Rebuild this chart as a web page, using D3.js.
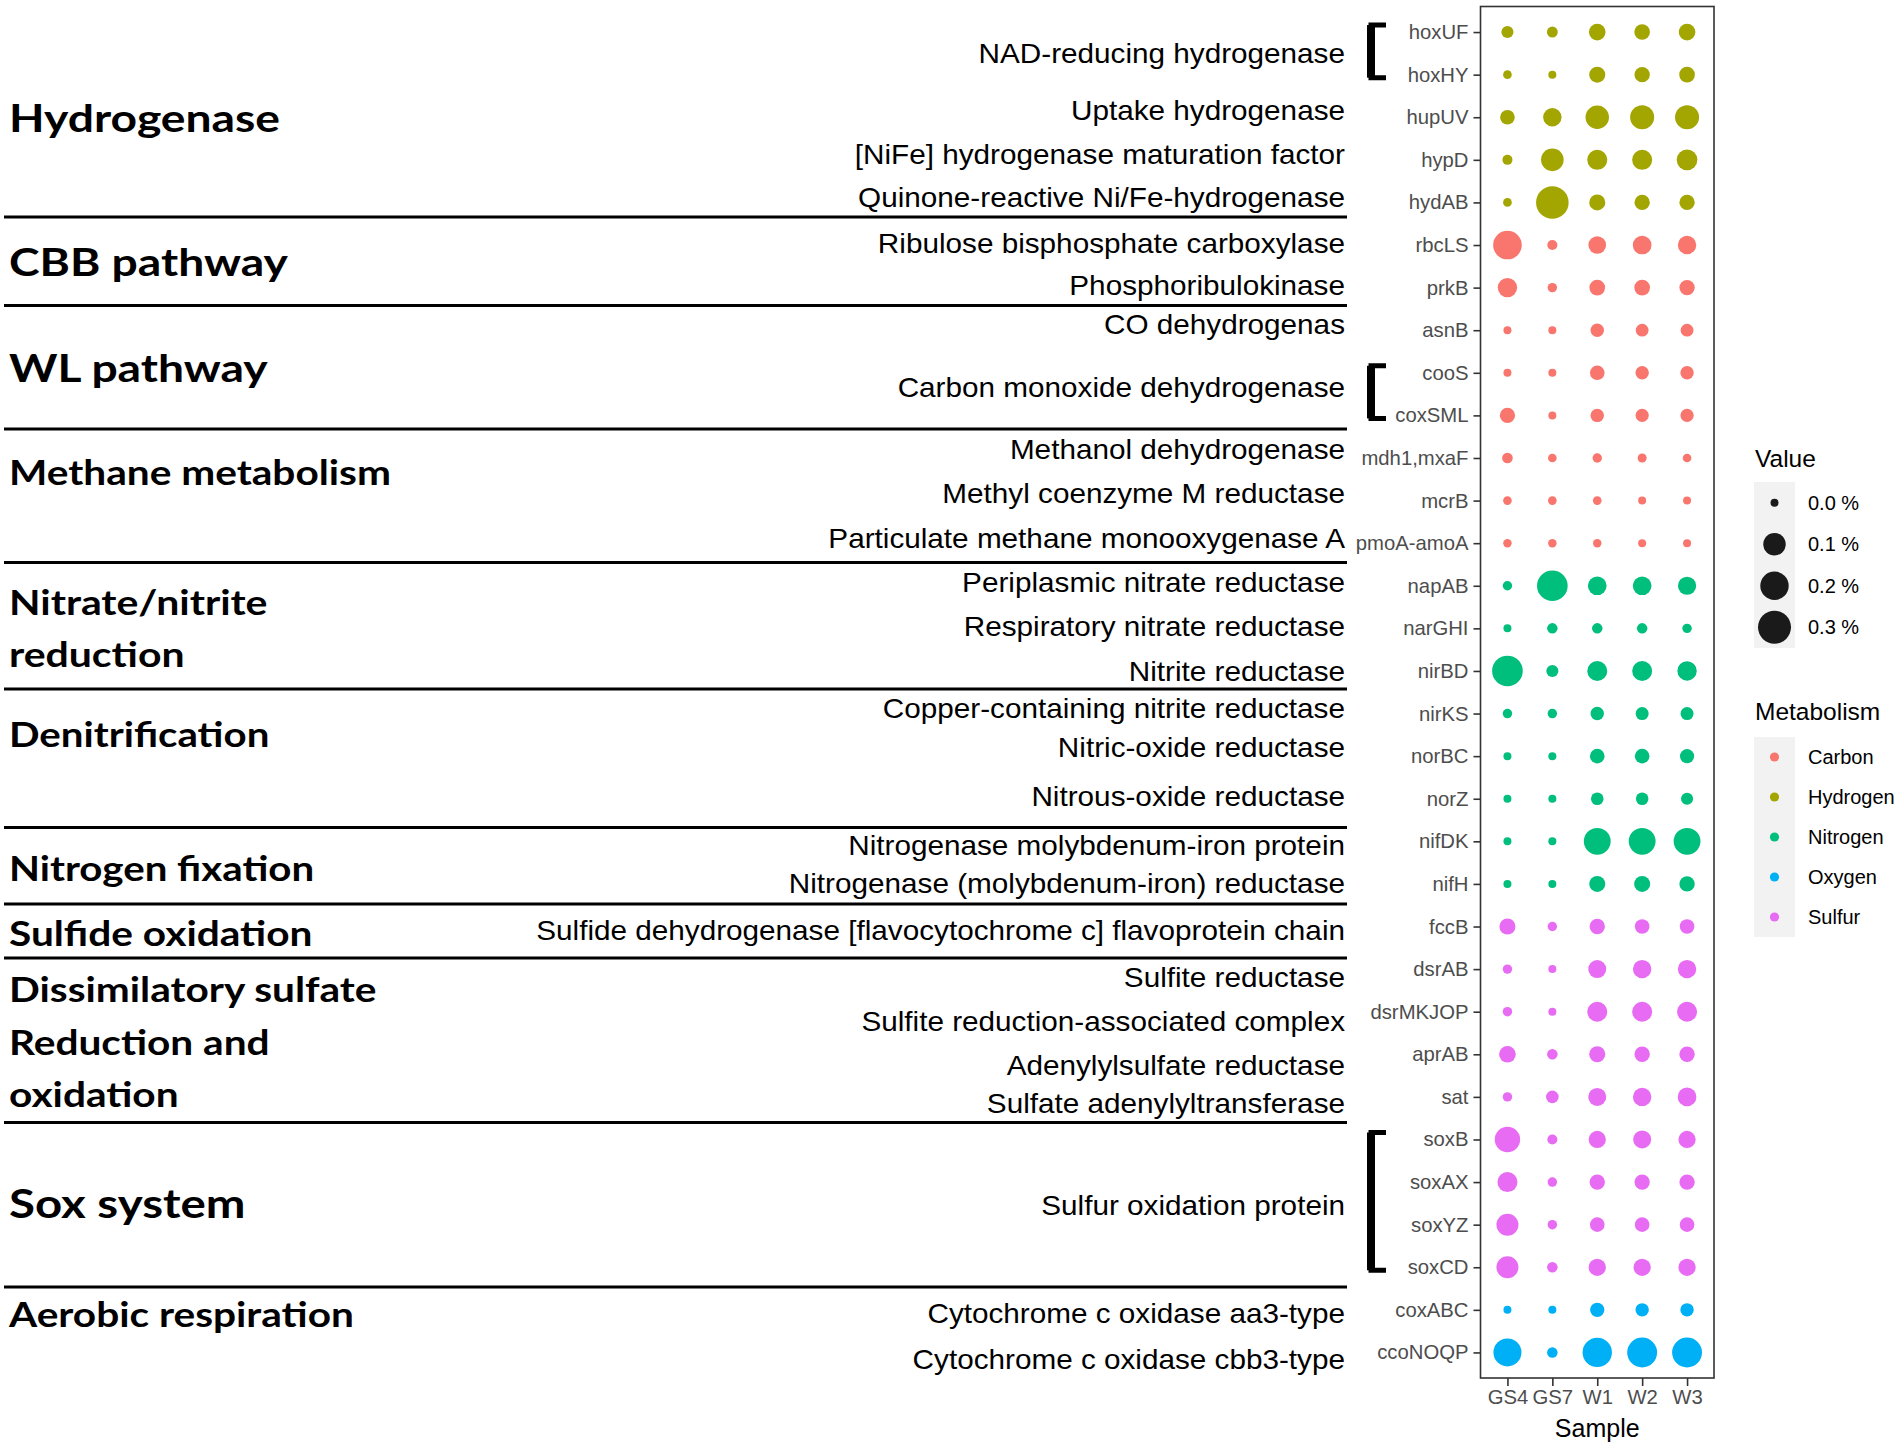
<!DOCTYPE html>
<html>
<head>
<meta charset="utf-8">
<script src="https://cdn.jsdelivr.net/npm/d3@7"></script>
<style>
  html, body { margin: 0; padding: 0; background: #ffffff; }
  svg { display: block; }
</style>
</head>
<body>
<svg id="chart" width="1902" height="1449"></svg>
<script>
// ---------------- DATA ----------------
const genes = ["hoxUF","hoxHY","hupUV","hypD","hydAB","rbcLS","prkB","asnB","cooS","coxSML",
  "mdh1,mxaF","mcrB","pmoA-amoA","napAB","narGHI","nirBD","nirKS","norBC","norZ","nifDK","nifH",
  "fccB","dsrAB","dsrMKJOP","aprAB","sat","soxB","soxAX","soxYZ","soxCD","coxABC","ccoNOQP"];
const geneMetabolism = ["Hydrogen","Hydrogen","Hydrogen","Hydrogen","Hydrogen","Carbon","Carbon","Carbon","Carbon","Carbon",
  "Carbon","Carbon","Carbon","Nitrogen","Nitrogen","Nitrogen","Nitrogen","Nitrogen","Nitrogen","Nitrogen","Nitrogen",
  "Sulfur","Sulfur","Sulfur","Sulfur","Sulfur","Sulfur","Sulfur","Sulfur","Sulfur","Oxygen","Oxygen"];
const samples = ["GS4","GS7","W1","W2","W3"];
// relative abundance (%) per sample, same order as genes
const valuesGS4 = [0.008,0.0002,0.021,0.002,0.0002,0.204,0.062,0.0,0.0,0.025,
  0.0034,0.0002,0.0001,0.001,0.0,0.246,0.001,0.0,0.0,0.0,0.0,
  0.031,0.001,0.001,0.036,0.001,0.145,0.069,0.094,0.094,0.0,0.192];
const valuesGS7 = [0.004,0.0,0.052,0.103,0.29,0.002,0.001,0.0,0.0,0.0,
  0.0002,0.0002,0.0001,0.246,0.003,0.008,0.001,0.0,0.0,0.0,0.0,
  0.001,0.0,0.0,0.003,0.010,0.002,0.001,0.001,0.003,0.0,0.003];
const valuesW1 = [0.036,0.031,0.114,0.069,0.031,0.045,0.028,0.014,0.021,0.014,
  0.001,0.0002,0.0001,0.055,0.003,0.069,0.014,0.021,0.010,0.17,0.031,
  0.026,0.048,0.069,0.031,0.048,0.041,0.026,0.021,0.041,0.019,0.219];
const valuesW2 = [0.028,0.026,0.123,0.069,0.026,0.055,0.028,0.011,0.014,0.013,
  0.0005,0.0,0.0,0.055,0.003,0.069,0.012,0.021,0.010,0.17,0.031,
  0.021,0.052,0.069,0.026,0.052,0.048,0.026,0.021,0.041,0.014,0.23];
const valuesW3 = [0.036,0.028,0.123,0.077,0.026,0.052,0.026,0.011,0.014,0.013,
  0.0002,0.0,0.0,0.05,0.001,0.062,0.012,0.018,0.008,0.17,0.026,
  0.021,0.052,0.069,0.026,0.055,0.041,0.026,0.021,0.041,0.014,0.23];
const sampleValues = [valuesGS4, valuesGS7, valuesW1, valuesW2, valuesW3];

const metabolismLevels = ["Carbon","Hydrogen","Nitrogen","Oxygen","Sulfur"];
const sizeBreaks = [0.0, 0.1, 0.2, 0.3];
const sizeBreakLabels = ["0.0 %","0.1 %","0.2 %","0.3 %"];

const groupTitles = ["Hydrogenase","CBB pathway","WL pathway","Methane metabolism",
  "Nitrate/nitrite","reduction","Denitrification","Nitrogen fixation","Sulfide oxidation",
  "Dissimilatory sulfate","Reduction and","oxidation","Sox system","Aerobic respiration"];
const descriptions = ["NAD-reducing hydrogenase","Uptake hydrogenase","[NiFe] hydrogenase maturation factor",
  "Quinone-reactive Ni/Fe-hydrogenase","Ribulose bisphosphate carboxylase","Phosphoribulokinase",
  "CO dehydrogenas","Carbon monoxide dehydrogenase","Methanol dehydrogenase","Methyl coenzyme M reductase",
  "Particulate methane monooxygenase A","Periplasmic nitrate reductase","Respiratory nitrate reductase",
  "Nitrite reductase","Copper-containing nitrite reductase","Nitric-oxide reductase","Nitrous-oxide reductase",
  "Nitrogenase molybdenum-iron protein","Nitrogenase (molybdenum-iron) reductase",
  "Sulfide dehydrogenase [flavocytochrome c] flavoprotein chain","Sulfite reductase",
  "Sulfite reduction-associated complex","Adenylylsulfate reductase","Sulfate adenylyltransferase",
  "Sulfur oxidation protein","Cytochrome c oxidase aa3-type","Cytochrome c oxidase cbb3-type"];
// bracketed gene pairs (first, last)
const brackets = [["hoxUF","hoxHY"],["cooS","coxSML"],["soxB","soxCD"]];

// ---------------- LAYOUT (not data) ----------------
const titleBaselines = [132,276,382,485,615,667,747,881,946,1002,1055,1107,1218,1327];
const titleFontSizes = [38.5,38.5,38.5,35,35,35,35,35,35,35,35,35,39.5,35];
const titleScaleX = [1.2,1.2,1.2,1.16,1.17,1.17,1.15,1.15,1.16,1.16,1.16,1.16,1.2,1.16];
const descBaselines = [63,120,164,207,253,295,334,397,459,503,548,592,636,681,718,757,806,855,893,940,987,1031,1075,1113,1215,1323,1369];
const separatorYs = [217,305.5,429,562.5,689,827.5,904,958,1122.5,1287];

const panel = {left: 1480.5, right: 1714, top: 6.5, bottom: 1378};

const svg = d3.select("#chart");

const color = d3.scaleOrdinal().domain(metabolismLevels)
  .range(["#F8766D","#A3A500","#00BF7D","#00B0F6","#E76BF3"]);
const size = d3.scaleSqrt().domain([0, 0.3]).range([4, 16.5]);

const x = d3.scalePoint().domain(samples).range([panel.left, panel.right]).padding(0.6);
const y = d3.scalePoint().domain(genes).range([panel.top, panel.bottom]).padding(0.6);

// ---------- left annotation text ----------
svg.append("g").selectAll("text").data(groupTitles).join("text")
  .attr("transform", (d,i) => `translate(9,${titleBaselines[i]}) scale(${titleScaleX[i]},1)`)
  .attr("font-family", "Lato, 'Open Sans', sans-serif")
  .attr("font-weight", 700)
  .attr("font-size", (d,i) => titleFontSizes[i])
  .attr("fill", "#000")
  .text(d => d);

svg.append("g").selectAll("text").data(descriptions).join("text")
  .attr("transform", (d,i) => `translate(1345,${descBaselines[i]}) scale(1.1,1)`)
  .attr("text-anchor", "end")
  .attr("font-family", "'Liberation Sans', Arial, sans-serif")
  .attr("font-size", 27)
  .attr("fill", "#000")
  .text(d => d);

svg.append("g").selectAll("line").data(separatorYs).join("line")
  .attr("x1", 4).attr("x2", 1347)
  .attr("y1", d => d).attr("y2", d => d)
  .attr("stroke", "#000").attr("stroke-width", 3);

// brackets
const bracketG = svg.append("g");
brackets.forEach(([a,b]) => {
  const y0 = y(a) - 7, y1 = y(b) + 3;
  bracketG.append("path")
    .attr("d", `M1386,${y0} H1371 V${y1} H1386`)
    .attr("fill", "none").attr("stroke", "#000")
    .attr("stroke-width", 5).attr("stroke-linejoin", "miter");
  bracketG.append("line")
    .attr("x1", 1371).attr("x2", 1371).attr("y1", y0).attr("y2", y1)
    .attr("stroke", "#000").attr("stroke-width", 8);
});

// ---------- panel ----------
svg.append("rect")
  .attr("x", panel.left).attr("y", panel.top)
  .attr("width", panel.right - panel.left).attr("height", panel.bottom - panel.top)
  .attr("fill", "#fff");

const points = [];
samples.forEach((s, si) => {
  genes.forEach((g, gi) => {
    points.push({sample: s, gene: g, value: sampleValues[si][gi], met: geneMetabolism[gi]});
  });
});
svg.append("g").selectAll("circle").data(points).join("circle")
  .attr("cx", d => x(d.sample))
  .attr("cy", d => y(d.gene))
  .attr("r", d => size(d.value))
  .attr("fill", d => color(d.met));

svg.append("rect")
  .attr("x", panel.left).attr("y", panel.top)
  .attr("width", panel.right - panel.left).attr("height", panel.bottom - panel.top)
  .attr("fill", "none").attr("stroke", "#333").attr("stroke-width", 1.6);

// axes
const yAxis = svg.append("g")
  .attr("transform", `translate(${panel.left},0)`)
  .call(d3.axisLeft(y).tickSize(7).tickPadding(5));
const xAxis = svg.append("g")
  .attr("transform", `translate(0,${panel.bottom})`)
  .call(d3.axisBottom(x).tickSize(8).tickPadding(4));
[yAxis, xAxis].forEach(ax => {
  ax.select(".domain").remove();
  ax.selectAll(".tick line").attr("stroke", "#333").attr("stroke-width", 1.6);
  ax.selectAll(".tick text")
    .attr("fill", "#4d4d4d")
    .attr("font-family", "'Liberation Sans', Arial, sans-serif")
    .attr("font-size", 20.3);
});

svg.append("text")
  .attr("x", (panel.left + panel.right) / 2).attr("y", 1437)
  .attr("text-anchor", "middle")
  .attr("font-family", "'Liberation Sans', Arial, sans-serif")
  .attr("font-size", 25).attr("fill", "#000")
  .text("Sample");

// ---------- legends ----------
const legFont = "'Liberation Sans', Arial, sans-serif";
const lx = 1754, keyW = 41;
svg.append("text").attr("x", 1755).attr("y", 467)
  .attr("font-family", legFont).attr("font-size", 24.5).attr("fill", "#000").text("Value");
const vKeyH = 41.5, vTop = 482;
const vLeg = svg.append("g");
vLeg.append("rect").attr("x", lx).attr("y", vTop).attr("width", keyW)
  .attr("height", vKeyH * sizeBreaks.length).attr("fill", "#f2f2f2");
vLeg.selectAll("circle").data(sizeBreaks).join("circle")
  .attr("cx", lx + keyW / 2)
  .attr("cy", (d,i) => vTop + vKeyH * (i + 0.5))
  .attr("r", d => size(d))
  .attr("fill", "#1a1a1a");
vLeg.selectAll("text").data(sizeBreakLabels).join("text")
  .attr("x", 1808).attr("y", (d,i) => vTop + vKeyH * (i + 0.5) + 7)
  .attr("font-family", legFont).attr("font-size", 20).attr("fill", "#000")
  .text(d => d);

svg.append("text").attr("x", 1755).attr("y", 720)
  .attr("font-family", legFont).attr("font-size", 24.5).attr("fill", "#000").text("Metabolism");
const mKeyH = 40, mTop = 737;
const mLeg = svg.append("g");
mLeg.append("rect").attr("x", lx).attr("y", mTop).attr("width", keyW)
  .attr("height", mKeyH * metabolismLevels.length).attr("fill", "#f2f2f2");
mLeg.selectAll("circle").data(metabolismLevels).join("circle")
  .attr("cx", lx + keyW / 2)
  .attr("cy", (d,i) => mTop + mKeyH * (i + 0.5))
  .attr("r", 4.6)
  .attr("fill", d => color(d));
mLeg.selectAll("text").data(metabolismLevels).join("text")
  .attr("x", 1808).attr("y", (d,i) => mTop + mKeyH * (i + 0.5) + 7)
  .attr("font-family", legFont).attr("font-size", 20).attr("fill", "#000")
  .text(d => d);
</script>
</body>
</html>
